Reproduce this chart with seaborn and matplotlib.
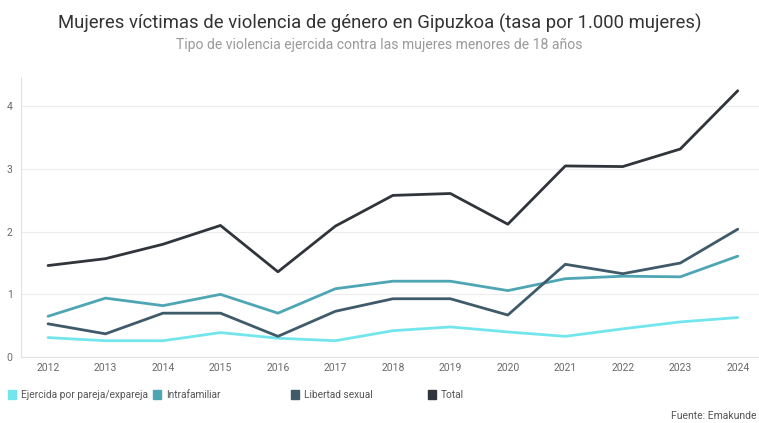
import matplotlib
matplotlib.use("Agg")
import matplotlib.pyplot as plt
import seaborn as sns
import pandas as pd
from matplotlib.patches import Patch

years = list(range(2012, 2025))
pareja = [0.31, 0.26, 0.26, 0.39, 0.30, 0.26, 0.42, 0.48, 0.40, 0.33, 0.45, 0.56, 0.63]
intrafamiliar = [0.65, 0.94, 0.82, 1.00, 0.70, 1.09, 1.21, 1.21, 1.06, 1.25, 1.29, 1.28, 1.61]
libertad = [0.53, 0.37, 0.70, 0.70, 0.33, 0.73, 0.93, 0.93, 0.67, 1.48, 1.33, 1.50, 2.04]
total = [1.46, 1.57, 1.80, 2.10, 1.36, 2.09, 2.58, 2.61, 2.12, 3.05, 3.04, 3.32, 4.25]

series_names = ["Ejercida por pareja/expareja", "Intrafamiliar", "Libertad sexual", "Total"]
series_values = [pareja, intrafamiliar, libertad, total]
colors = ["#72e6ec", "#4ea6b4", "#3f5a68", "#30353b"]

rows = []
for name, vals in zip(series_names, series_values):
    for y, v in zip(years, vals):
        rows.append({"year": y, "value": v, "serie": name})
df = pd.DataFrame(rows)

sns.set_style("white")
plt.rcParams["font.family"] = ["Roboto", "DejaVu Sans"]

fig = plt.figure(figsize=(7.59, 4.23), dpi=100)
ax = fig.add_axes([0.0277, 0.156, 0.9723, 0.662])

sns.lineplot(data=df, x="year", y="value", hue="serie", hue_order=series_names,
             palette=colors, linewidth=2.0, ax=ax, legend=False)

ax.set_xlim(2011.53, 2024.37)
ax.set_ylim(0, 4.47)
ax.set_xticks(years)
ax.set_xticklabels([str(y) for y in years])
ax.set_yticks([0, 1, 2, 3, 4])
ax.set_yticklabels(["0", "1", "2", "3", "4"])
ax.yaxis.grid(True, color="#ececec", linewidth=0.8)
ax.xaxis.grid(False)
ax.set_axisbelow(True)
for s in ["top", "right"]:
    ax.spines[s].set_visible(False)
for s in ["left", "bottom"]:
    ax.spines[s].set_color("#e2e2e2")
    ax.spines[s].set_linewidth(0.8)
ax.tick_params(axis="both", colors="#6a6a6a", labelsize=7.5, length=0, pad=4)
ax.tick_params(axis="y", pad=6)
ax.set_xlabel("")
ax.set_ylabel("")

fig.text(0.5, 0.945, "Mujeres víctimas de violencia de género en Gipuzkoa (tasa por 1.000 mujeres)",
         ha="center", va="center", fontsize=13.3, color="#333333")
fig.text(0.5, 0.893, "Tipo de violencia ejercida contra las mujeres menores de 18 años",
         ha="center", va="center", fontsize=10.1, color="#9a9a9a")

xpos = [0.010, 0.201, 0.383, 0.564]
for name, c, xp in zip(series_names, colors, xpos):
    leg = fig.legend(handles=[Patch(facecolor=c, edgecolor=c)], labels=[name],
                     loc="center left", bbox_to_anchor=(xp, 0.066), frameon=False,
                     fontsize=7.3, handlelength=0.8, handleheight=1.0, handletextpad=0.5,
                     borderaxespad=0, borderpad=0)
    for t in leg.get_texts():
        t.set_color("#555555")

fig.text(0.997, 0.004, "Fuente: Emakunde", ha="right", va="bottom", fontsize=7.5, color="#555555")

fig.savefig("out.png", dpi=100)
